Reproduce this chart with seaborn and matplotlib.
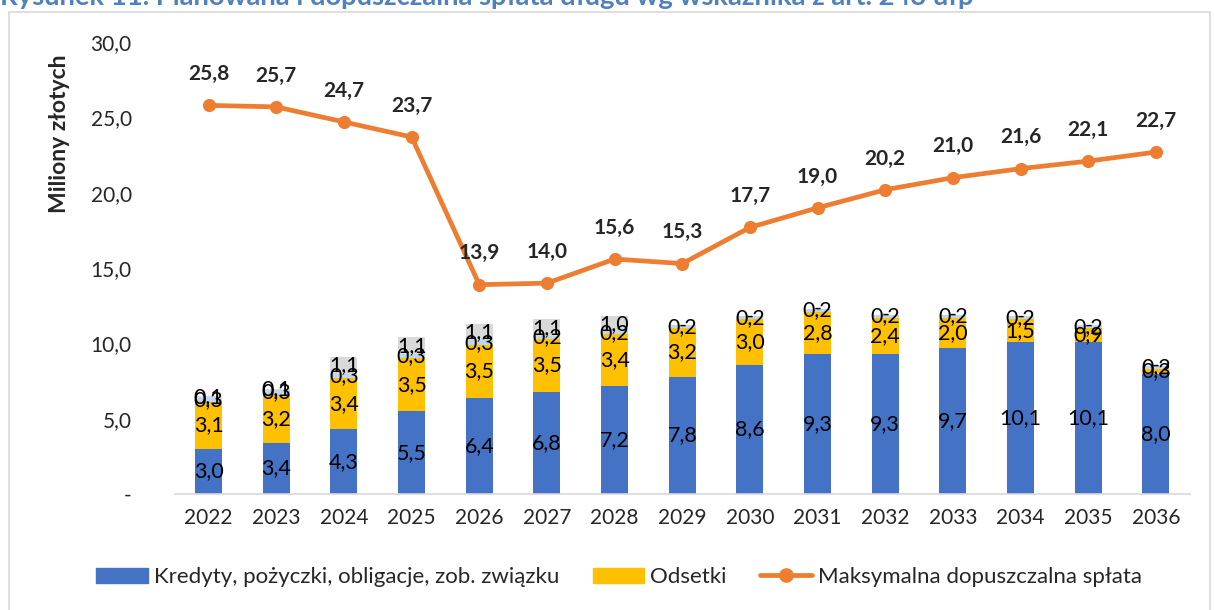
import numpy as np
import pandas as pd
import seaborn as sb
import matplotlib.pyplot as plt
from matplotlib.patches import Rectangle
from matplotlib.lines import Line2D

years = ['2022', '2023', '2024', '2025', '2026', '2027', '2028', '2029',
         '2030', '2031', '2032', '2033', '2034', '2035', '2036']
kredyty = [3.0, 3.4, 4.3, 5.5, 6.4, 6.8, 7.2, 7.8, 8.6, 9.3, 9.3, 9.7, 10.1, 10.1, 8.0]
odsetki = [3.1, 3.2, 3.4, 3.5, 3.5, 3.5, 3.4, 3.2, 3.0, 2.8, 2.4, 2.0, 1.5, 0.9, 0.3]
inne = [0.3, 0.3, 0.3, 0.3, 0.3, 0.2, 0.2, 0.2, 0.2, 0.2, 0.2, 0.2, 0.2, 0.2, 0.2]
poreczenia = [0.1, 0.1, 1.1, 1.1, 1.1, 1.1, 1.0, 0.0, 0.0, 0.0, 0.0, 0.0, 0.0, 0.0, 0.0]
maks = [25.8, 25.7, 24.7, 23.7, 13.9, 14.0, 15.6, 15.3, 17.7, 19.0, 20.2, 21.0, 21.6, 22.1, 22.7]

colors = ['#4472C4', '#FFC000', '#BDD7EE', '#D9D9D9']
line_color = '#ED7D31'

sb.set_style('white')
plt.rcParams['font.family'] = ['Lato', 'DejaVu Sans']


def fmt(v):
    if v == 0:
        return '-'
    return ('%.1f' % v).replace('.', ',')


series = [kredyty, odsetki, inne, poreczenia]
stack = np.cumsum(np.array(series), axis=0)

fig = plt.figure(figsize=(12.14, 6.10), dpi=100)
ax = fig.add_axes([0.144, 0.190, 0.836, 0.741])

# stacked bars: draw cumulative totals from the top segment down
for i in range(len(series) - 1, -1, -1):
    df = pd.DataFrame({'rok': years, 'v': stack[i]})
    sb.barplot(data=df, x='rok', y='v', color=colors[i], width=0.4,
               saturation=1, ax=ax, linewidth=0)

# segment labels
x = np.arange(len(years))
for i, s in enumerate(series):
    base = stack[i] - np.array(s)
    for j, v in enumerate(s):
        ax.text(x[j], base[j] + v / 2, fmt(v), ha='center', va='center',
                fontsize=15.5, color='black')

df_line = pd.DataFrame({'x': x, 'y': maks})
sb.lineplot(data=df_line, x='x', y='y', color=line_color, linewidth=3.4,
            marker='o', markersize=9.5, markeredgewidth=0, ax=ax)
for j, v in enumerate(maks):
    ax.annotate(fmt(v), (x[j], v), xytext=(0, 22.5), textcoords='offset points',
                ha='center', va='center', fontsize=15, fontweight='bold')

ax.set_xlim(-0.5, len(years) - 0.5)
ax.set_ylim(0, 30)
ax.set_yticks(np.arange(0, 31, 5))
ax.set_yticklabels([fmt(t) for t in np.arange(0, 31, 5)], fontsize=15)
ax.tick_params(axis='y', length=0, pad=31)
ax.tick_params(axis='x', length=0, pad=10, labelsize=15)
ax.set_xlabel('')
ax.set_ylabel('')
for sp in ['top', 'right', 'left']:
    ax.spines[sp].set_visible(False)
ax.spines['bottom'].set_color('#D9D9D9')
ax.spines['bottom'].set_linewidth(1.2)

fig.text(60 / 1214, 1 - 134 / 610, 'Miliony złotych', rotation=90,
         ha='center', va='center', fontsize=16.5, fontweight='bold')

handles = [Rectangle((0, 0), 1, 1, color=colors[0]),
           Rectangle((0, 0), 1, 1, color=colors[1]),
           Line2D([], [], color=line_color, lw=3.4, marker='o', markersize=9.5)]
labels = ['Kredyty, pożyczki, obligacje, zob. związku', 'Odsetki',
          'Maksymalna dopuszczalna spłata']
fig.legend(handles, labels, loc='center', bbox_to_anchor=(619 / 1214, 1 - 577 / 610),
           ncol=3, frameon=False, fontsize=16, handlelength=2.33, handleheight=0.68,
           columnspacing=1.5, handletextpad=0.27)

# chart border and clipped caption
fig.add_artist(Rectangle((9 / 1214, -0.1), 1201 / 1214, 1.1 - 12 / 610,
                         transform=fig.transFigure, fill=False,
                         edgecolor='#D9D9D9', lw=1.2))
fig.text(0.0, 1 - 5 / 610, 'Rysunek 11. Planowana i dopuszczalna spłata długu wg wskaźnika z art. 243 ufp',
         ha='left', va='baseline', fontsize=19.7, fontweight='bold', color='#4F81BD')

fig.savefig('out.png', dpi=100)
